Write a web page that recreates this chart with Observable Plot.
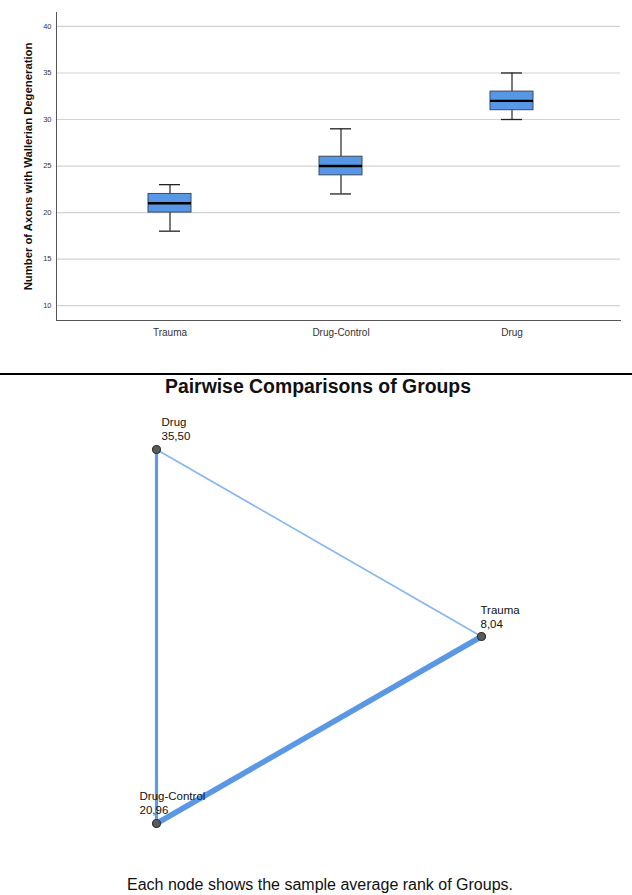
<!DOCTYPE html>
<html>
<head>
<meta charset="utf-8">
<script src="https://cdn.jsdelivr.net/npm/d3@7"></script>
<script src="https://cdn.jsdelivr.net/npm/@observablehq/plot@0.6"></script>
<style>
  html, body { margin: 0; padding: 0; background: #fff; }
  body { font-family: "Liberation Sans", Arial, sans-serif; }
  #wrap { position: relative; width: 632px; height: 895px; overflow: hidden; background: #fff; }
  #top { position: absolute; left: 0; top: 0; }
  #sep { position: absolute; left: 0; top: 372.5px; width: 632px; height: 2.5px; background: #000; }
  #title { position: absolute; left: 0; width: 636px; top: 377px; text-align: center; font-weight: bold; font-size: 19.4px; line-height: 19px; color: #111; }
  #net { position: absolute; left: 0; top: 400px; }
  #cap { position: absolute; left: 0; width: 640px; top: 877px; text-align: center; font-size: 16px; line-height: 16px; color: #111; }
</style>
</head>
<body>
<div id="wrap">
  <div id="top"></div>
  <div id="sep"></div>
  <div id="title">Pairwise Comparisons of Groups</div>
  <div id="net"></div>
  <div id="cap">Each node shows the sample average rank of Groups.</div>
</div>
<script>
// ---- Box plot data ----
const groups = ["Trauma", "Drug-Control", "Drug"];
const whiskerLow = [18, 22, 30];
const quartile1 = [20, 24, 31];
const medians = [21, 25, 32];
const quartile3 = [22, 26, 33];
const whiskerHigh = [23, 29, 35];
const yTicks = [10, 15, 20, 25, 30, 35, 40];
const yLabel = "Number of Axons with Wallerian Degeneration";

// ---- Pairwise comparison network data ----
const nodeNames = ["Drug", "Trauma", "Drug-Control"];
const nodeRanks = [35.50, 8.04, 20.96];
const nodeLayoutX = [0, 1, 0];
const nodeLayoutY = [1, 0.5, 0];
const edgeFrom = ["Drug", "Drug", "Trauma"];
const edgeTo = ["Trauma", "Drug-Control", "Drug-Control"];

const FONT = "Liberation Sans, Arial, sans-serif";

// ---------- Box plot ----------
const boxes = groups.map((g, i) => ({
  group: g, lo: whiskerLow[i], q1: quartile1[i], med: medians[i], q3: quartile3[i], hi: whiskerHigh[i]
}));

const BOX_W = 43, CAP_W = 21;
const topPlot = Plot.plot({
  width: 632, height: 352,
  marginLeft: 56, marginRight: 12, marginTop: 12, marginBottom: 32,
  style: { fontFamily: FONT, background: "#fff", color: "#333" },
  x: { type: "band", domain: groups, range: [84, 597], paddingInner: 0.7485, paddingOuter: 0.374, label: null },
  y: { domain: [8.4, 41.5], label: null },
  marks: [
    Plot.ruleY(yTicks, { stroke: "#d2d2d2", strokeWidth: 1.2 }),
    Plot.frame({ anchor: "left", stroke: "#555" }),
    Plot.frame({ anchor: "bottom", stroke: "#555" }),
    Plot.axisY({ ticks: yTicks, tickSize: 0, tickPadding: 5, fontSize: 7.5, label: null, fill: "#333" }),
    Plot.axisX({ tickSize: 0, tickPadding: 8, fontSize: 10, label: null, fill: "#333" }),
    Plot.text([yLabel], { frameAnchor: "left", textAnchor: "middle", dx: -28, rotate: -90, fontSize: 11.3, fontWeight: "bold", fill: "#111" }),
    // whiskers
    Plot.ruleX(boxes, { x: "group", y1: "lo", y2: "q1", stroke: "#222", strokeWidth: 1.2 }),
    Plot.ruleX(boxes, { x: "group", y1: "q3", y2: "hi", stroke: "#222", strokeWidth: 1.2 }),
    Plot.tickY(boxes, { x: "group", y: "lo", stroke: "#222", strokeWidth: 1.3, inset: (BOX_W - CAP_W) / 2 }),
    Plot.tickY(boxes, { x: "group", y: "hi", stroke: "#222", strokeWidth: 1.3, inset: (BOX_W - CAP_W) / 2 }),
    // boxes
    Plot.barY(boxes, { x: "group", y1: "q1", y2: "q3", fill: "#5797e5", stroke: "#3d4a5a", strokeWidth: 1 }),
    // medians
    Plot.tickY(boxes, { x: "group", y: "med", stroke: "#000", strokeWidth: 2.4 })
  ]
});
document.getElementById("top").appendChild(topPlot);

// ---------- Network ----------
const fmtRank = v => d3.format(".2f")(v).replace(".", ",");
const nodes = nodeNames.map((n, i) => ({ name: n, rank: nodeRanks[i], x: nodeLayoutX[i], y: nodeLayoutY[i] }));
const byName = new Map(nodes.map(d => [d.name, d]));
const edges = edgeFrom.map((f, i) => {
  const a = byName.get(f), b = byName.get(edgeTo[i]);
  return { from: f, to: edgeTo[i], x1: a.x, y1: a.y, x2: b.x, y2: b.y };
});
// line weight / colour per pair (style only)
const edgeStyle = {
  "Drug|Trauma": { w: 1.6, c: "#86b6ef" },
  "Drug|Drug-Control": { w: 3.2, c: "#5e9be6" },
  "Trauma|Drug-Control": { w: 5.5, c: "#5b98e4" }
};
const labelDx = { "Drug": 5, "Trauma": -1, "Drug-Control": -17 };
const labelDy = { "Drug": -10, "Trauma": -9, "Drug-Control": -10 };

const netPlot = Plot.plot({
  width: 632, height: 460,
  margin: 0,
  style: { fontFamily: FONT, background: "transparent" },
  x: { domain: [0, 1], range: [156, 481], axis: null },
  y: { domain: [0, 1], range: [423, 49], axis: null },
  color: { type: "identity" },
  marks: [
    Plot.link(edges, {
      x1: "x1", y1: "y1", x2: "x2", y2: "y2",
      stroke: d => edgeStyle[d.from + "|" + d.to].c,
      strokeWidth: d => edgeStyle[d.from + "|" + d.to].w
    }),
    Plot.dot(nodes, { x: "x", y: "y", r: 4, fill: "#5a5a5a", stroke: "#333", strokeWidth: 1.2 }),
    ...nodes.map(n => Plot.text([n], {
      x: "x", y: "y",
      text: d => d.name + "\n" + fmtRank(d.rank),
      textAnchor: "start", lineAnchor: "bottom", lineHeight: 1.15,
      dx: labelDx[n.name], dy: labelDy[n.name], fontSize: 11.5, fill: "#111"
    }))
  ]
});
document.getElementById("net").appendChild(netPlot);
</script>
</body>
</html>
